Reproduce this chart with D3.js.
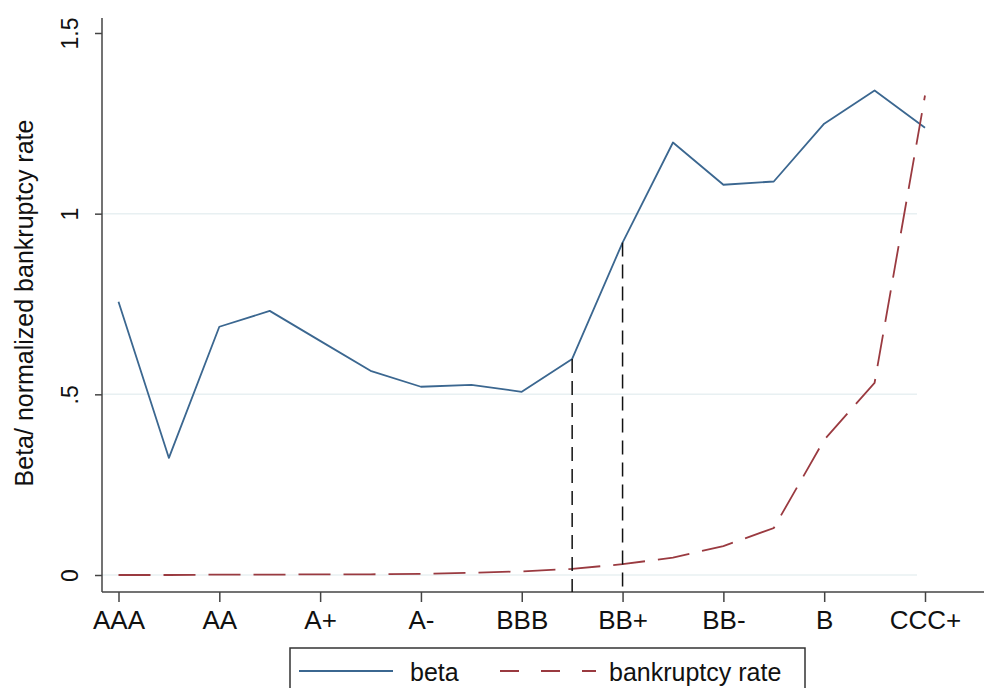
<!DOCTYPE html>
<html>
<head>
<meta charset="utf-8">
<script src="https://cdn.jsdelivr.net/npm/d3@7"></script>
<style>
  body { margin: 0; background: #fff; }
  svg { display: block; font-family: "Liberation Sans", Arial, sans-serif; }
</style>
</head>
<body>
<svg id="chart" width="984" height="688"></svg>
<script>
const categories = ["AAA","AA+","AA","AA-","A+","A","A-","BBB+","BBB","BBB-","BB+","BB","BB-","B+","B","B-","CCC+"];
const xTickLabels = ["AAA","AA","A+","A-","BBB","BB+","BB-","B","CCC+"];
const beta = [0.756, 0.324, 0.687, 0.731, 0.648, 0.565, 0.521, 0.526, 0.507, 0.598, 0.920, 1.197, 1.080, 1.089, 1.249, 1.341, 1.238];
const bankruptcyRate = [0.000, 0.000, 0.001, 0.001, 0.002, 0.002, 0.003, 0.006, 0.010, 0.017, 0.030, 0.048, 0.080, 0.130, 0.374, 0.532, 1.327];
const yTicks = [0, 0.5, 1, 1.5];
const yTickLabels = ["0", ".5", "1", "1.5"];
const gridValues = [0, 0.5, 1];
const markerCategories = ["BBB-", "BB+"];
const seriesNames = ["beta", "bankruptcy rate"];
const yTitle = "Beta/ normalized bankruptcy rate";

const svg = d3.select("#chart");
const betaColor = "#3b6790";
const bankColor = "#9a3a40";
const axisColor = "#444";

const x = d3.scalePoint().domain(categories).range([118.5, 925]);
const y = d3.scaleLinear().domain([0, 1.5]).range([575, 33]);
const axisY = 592, axisX = 102;

// gridlines
svg.append("g").selectAll("line").data(gridValues).join("line")
  .attr("x1", axisX).attr("x2", 917)
  .attr("y1", d => y(d)).attr("y2", d => y(d))
  .attr("stroke", "#e8f0f2").attr("stroke-width", 1.5);

// axes lines
svg.append("line").attr("x1", axisX).attr("x2", axisX).attr("y1", 18).attr("y2", axisY)
  .attr("stroke", axisColor).attr("stroke-width", 1.5);
svg.append("line").attr("x1", axisX).attr("x2", 984).attr("y1", axisY).attr("y2", axisY)
  .attr("stroke", axisColor).attr("stroke-width", 1.5);

// x axis
const xAxis = d3.axisBottom(x).tickValues(xTickLabels).tickSize(10).tickPadding(9);
const gx = svg.append("g").attr("transform", `translate(0,${axisY})`).call(xAxis);
gx.select(".domain").remove();
gx.selectAll(".tick line").attr("stroke", axisColor).attr("stroke-width", 1.5);
gx.selectAll(".tick text").attr("font-size", 26).attr("fill", "#111")
  .attr("font-family", "'Liberation Sans', Arial, sans-serif");

// y axis
const yAxis = d3.axisLeft(y).tickValues(yTicks).tickSize(7).tickFormat((d, i) => yTickLabels[i]);
const gy = svg.append("g").attr("transform", `translate(${axisX},0)`).call(yAxis);
gy.select(".domain").remove();
gy.selectAll(".tick line").attr("stroke", axisColor).attr("stroke-width", 1.5);
gy.selectAll(".tick text")
  .attr("font-size", 23).attr("fill", "#111")
  .attr("font-family", "'Liberation Sans', Arial, sans-serif")
  .attr("x", 0).attr("dy", null)
  .attr("text-anchor", "middle")
  .attr("transform", "translate(-24,0) rotate(-90)");

// y title
svg.append("text")
  .attr("transform", "translate(33,303) rotate(-90)")
  .attr("text-anchor", "middle")
  .attr("font-size", 25).attr("fill", "#111")
  .text(yTitle);

// beta line
const line = d3.line().x((d, i) => x(categories[i])).y(d => y(d));
svg.append("path").datum(beta).attr("d", line)
  .attr("fill", "none").attr("stroke", betaColor).attr("stroke-width", 1.8)
  .attr("stroke-linejoin", "round");

// bankruptcy line
svg.append("path").datum(bankruptcyRate).attr("d", line)
  .attr("fill", "none").attr("stroke", bankColor).attr("stroke-width", 1.8)
  .attr("stroke-dasharray", "32,13");

// vertical dashed markers
svg.append("g").selectAll("line").data(markerCategories).join("line")
  .attr("x1", d => x(d)).attr("x2", d => x(d))
  .attr("y1", d => y(beta[categories.indexOf(d)])).attr("y2", axisY)
  .attr("stroke", "#111").attr("stroke-width", 1.5)
  .attr("stroke-dasharray", "14,8");

// legend
const lg = svg.append("g");
lg.append("rect").attr("x", 290).attr("y", 648).attr("width", 515).attr("height", 80)
  .attr("fill", "#fff").attr("stroke", "#333").attr("stroke-width", 1.5);
lg.append("line").attr("x1", 299).attr("x2", 393).attr("y1", 671).attr("y2", 671)
  .attr("stroke", betaColor).attr("stroke-width", 1.8);
lg.append("text").attr("x", 410).attr("y", 681).attr("font-size", 25).attr("fill", "#111").text(seriesNames[0]);
lg.append("line").attr("x1", 500).attr("x2", 596).attr("y1", 671).attr("y2", 671)
  .attr("stroke", bankColor).attr("stroke-width", 1.8).attr("stroke-dasharray", "19,22");
lg.append("text").attr("x", 609).attr("y", 681).attr("font-size", 25).attr("fill", "#111").text(seriesNames[1]);
</script>
</body>
</html>
